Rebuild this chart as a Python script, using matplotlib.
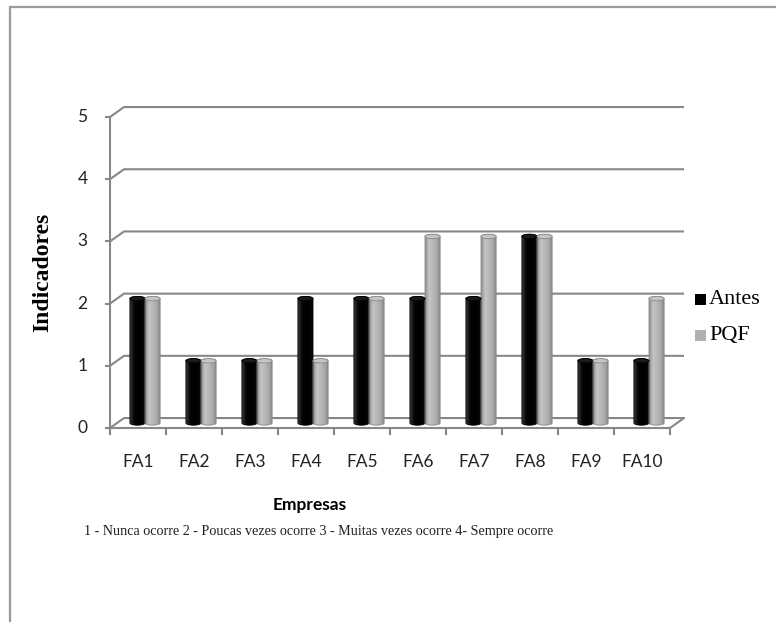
import numpy as np
import matplotlib
matplotlib.use("Agg")
import matplotlib.pyplot as plt
from matplotlib.patches import Rectangle, Ellipse, PathPatch
from matplotlib.path import Path
from matplotlib.lines import Line2D

# ---- data ----
empresas = ["FA1", "FA2", "FA3", "FA4", "FA5", "FA6", "FA7", "FA8", "FA9", "FA10"]
antes = [2, 1, 1, 2, 2, 2, 2, 3, 1, 1]
pqf = [2, 1, 1, 1, 2, 3, 3, 3, 1, 2]
series_names = ["Antes", "PQF"]
y_ticks = [0, 1, 2, 3, 4, 5]
footnote = "1 - Nunca ocorre 2 - Poucas vezes ocorre 3 - Muitas vezes ocorre 4- Sempre ocorre"

# ---- style ----
W, H = 776, 622
GRID = "#878787"
DX, DY = 0.25, 0.16          # depth of the pseudo-3D box (data units)
BAR_W = 0.27
CAP_H = 0.07

fig = plt.figure(figsize=(W / 100, H / 100), dpi=100)
fig.patch.set_facecolor("white")

# outer frame
fig.add_artist(Rectangle((10 / W, -0.01), 1.02, (H - 7) / H + 0.01,
                         transform=fig.transFigure, fill=False,
                         edgecolor="#9a9a9a", lw=1.6))

ax = fig.add_axes([110 / W, (H - 428) / H, 560 / W, 311 / H])
ax.set_xlim(0, len(empresas))
ax.set_ylim(0, 5)
ax.axis("off")

n = len(empresas)
lw = 1.5

# back wall grid lines with the short diagonal to the front axis
for v in y_ticks:
    ax.add_line(Line2D([0, DX, n + DX], [v, v + DY, v + DY], color=GRID,
                       lw=lw, clip_on=False, solid_capstyle="butt"))
    ax.add_line(Line2D([-0.08, 0], [v, v], color=GRID, lw=lw, clip_on=False))

# floor front edge and right side
ax.add_line(Line2D([0, n, n + DX], [0, 0, DY], color=GRID, lw=lw, clip_on=False))
# vertical value axis
ax.add_line(Line2D([0, 0], [0, 5], color=GRID, lw=lw, clip_on=False))
# category ticks
for i in range(n + 1):
    ax.add_line(Line2D([i, i], [0, -0.09], color=GRID, lw=lw, clip_on=False))


def cylinder(x0, val, cmap_cols, cap_col, edge_col):
    y0 = DY / 2
    y1 = val + DY / 2
    x1 = x0 + BAR_W
    cx = (x0 + x1) / 2
    t = np.linspace(0, np.pi, 40)
    # outline: bottom half ellipse, right side, top half ellipse, left side
    bx = cx - np.cos(t) * BAR_W / 2
    by = y0 - np.sin(t) * CAP_H / 2
    tx = cx + np.cos(t) * BAR_W / 2
    ty = y1 + np.sin(t) * CAP_H / 2
    verts = np.vstack([np.column_stack([bx, by]), np.column_stack([tx, ty]),
                       [[bx[0], by[0]]]])
    codes = [Path.MOVETO] + [Path.LINETO] * (len(verts) - 2) + [Path.CLOSEPOLY]
    clip = PathPatch(Path(verts, codes), facecolor="none", edgecolor="none")
    ax.add_patch(clip)
    xs = np.linspace(0, 1, len(cmap_cols))
    grad = np.array([np.interp(np.linspace(0, 1, 64), xs,
                               [c[k] for c in cmap_cols]) for k in range(3)]).T
    img = ax.imshow(grad[np.newaxis, :, :], extent=(x0, x1, y0 - CAP_H, y1 + CAP_H),
                    aspect="auto", interpolation="bilinear", zorder=3)
    img.set_clip_path(clip)
    ax.add_patch(PathPatch(Path(verts, codes), facecolor="none",
                           edgecolor=edge_col, lw=0.6, zorder=4))
    ax.add_patch(Ellipse((cx, y1), BAR_W, CAP_H, facecolor=cap_col,
                         edgecolor=edge_col, lw=0.6, zorder=5))


def rgb(h):
    h = h.lstrip("#")
    return tuple(int(h[i:i + 2], 16) / 255 for i in (0, 2, 4))


black_grad = [rgb(c) for c in ["#3a3a3a", "#050505", "#000000", "#000000", "#101010"]]
grey_grad = [rgb(c) for c in ["#8c8c8c", "#c4c4c4", "#b8b8b8", "#a8a8a8", "#7e7e7e"]]

for i in range(n):
    mid = i + 0.5 + DX / 2
    cylinder(mid - BAR_W, antes[i], black_grad, "#1a1a1a", "#000000")
    cylinder(mid, pqf[i], grey_grad, "#c6c6c6", "#8a8a8a")

# tick labels
for i, lab in enumerate(empresas):
    ax.text(i + 0.5, -0.55, lab, ha="center", va="center", fontsize=12.5,
            family="Lato", color="#222222")
for v in y_ticks:
    ax.text(-0.4, v, str(v), ha="right", va="center", fontsize=12.5,
            family="Lato", color="#222222")

fig.text(43 / W, 1 - 272 / H, "Indicadores", rotation=90, ha="center",
         va="center", fontsize=17, fontweight="bold", family="Liberation Serif")
fig.text(310 / W, 1 - 505 / H, "Empresas", ha="center", va="center",
         fontsize=12.5, fontweight="bold", family="Lato")
fig.text(319 / W, 1 - 531 / H, footnote, ha="center", va="center",
         fontsize=10.2, family="Liberation Serif", color="#222222")

# legend
for k, (name, col) in enumerate(zip(series_names, ["#000000", "#b0b0b0"])):
    yy = 1 - (299.5 + 36 * k) / H
    fig.add_artist(Rectangle((695 / W, yy - 5.5 / H), 11 / W, 11 / H,
                             transform=fig.transFigure, facecolor=col,
                             edgecolor="none"))
    fig.text(709 / W, yy, name, ha="left", va="center", fontsize=16,
             family="Liberation Serif")

fig.savefig("out.png", dpi=100)
